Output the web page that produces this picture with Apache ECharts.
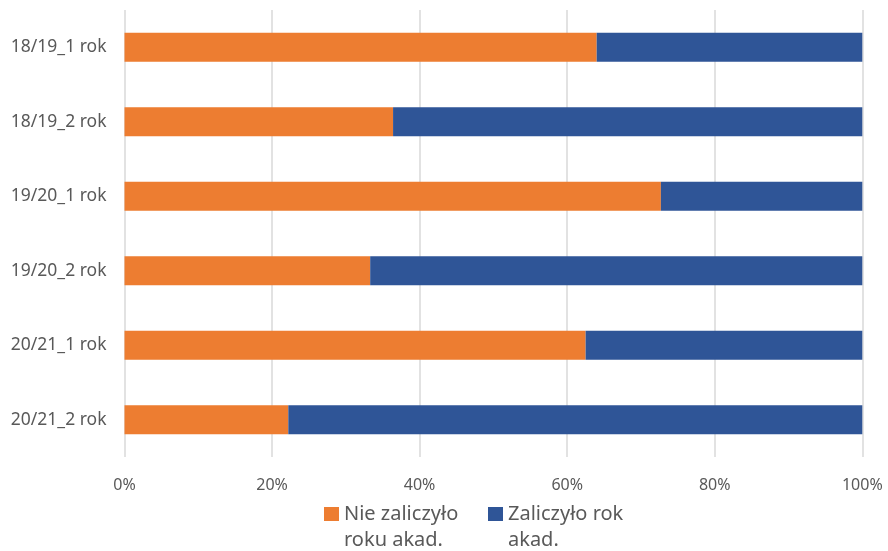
<!DOCTYPE html>
<html>
<head>
<meta charset="utf-8">
<script src="https://cdn.jsdelivr.net/npm/echarts@6/dist/echarts.min.js"></script>
<style>
  html, body { margin: 0; padding: 0; background: #fff; }
  #chart { width: 888px; height: 551px; }
</style>
</head>
<body>
<div id="chart"></div>
<script>
// kategorie (od góry)
const categories = ["18/19_1 rok", "18/19_2 rok", "19/20_1 rok", "19/20_2 rok", "20/21_1 rok", "20/21_2 rok"];
// udział w %
const nieZaliczylo = [64.0, 36.4, 72.7, 33.3, 62.5, 22.2];
const zaliczylo = [36.0, 63.6, 27.3, 66.7, 37.5, 77.8];
const nameNie = "Nie zaliczyło\nroku akad.";
const nameZal = "Zaliczyło rok\nakad.";

const font = "Noto Sans";
const legendText = {
  fontFamily: font,
  fontSize: 20,
  color: "#595959",
  lineHeight: 26,
};

// pusta linia na początku, żeby pierwsza linia tekstu była na wysokości kwadracika
const legendBase = {
  top: 475,
  padding: 0,
  itemWidth: 15,
  itemHeight: 14,
  itemGap: 0,
  icon: "rect",
  textStyle: legendText,
  formatter: (name) => "\n" + name,
};

var myChart = echarts.init(document.getElementById("chart"));
myChart.setOption({
  animation: false,
  grid: { left: 124.5, right: 25.7, top: 10, bottom: 94 },
  legend: [
    Object.assign({ data: [nameNie], left: 324 }, legendBase),
    Object.assign({ data: [nameZal], left: 488 }, legendBase),
  ],
  xAxis: {
    type: "value",
    min: 0,
    max: 100,
    interval: 20,
    axisLine: { show: false },
    axisTick: { show: false },
    axisLabel: {
      formatter: "{value}%",
      fontFamily: font,
      fontSize: 16,
      color: "#595959",
      margin: 20,
    },
    splitLine: { lineStyle: { color: "#d9d9d9", width: 1.5 } },
  },
  yAxis: {
    type: "category",
    data: categories,
    inverse: true,
    axisLine: { show: false },
    axisTick: { show: false },
    axisLabel: {
      fontFamily: font,
      fontSize: 17.5,
      color: "#595959",
      margin: 18,
    },
  },
  series: [
    {
      name: nameNie,
      type: "bar",
      stack: "total",
      barWidth: 29,
      data: nieZaliczylo,
      itemStyle: { color: "#ED7D31" },
    },
    {
      name: nameZal,
      type: "bar",
      stack: "total",
      barWidth: 29,
      data: zaliczylo,
      itemStyle: { color: "#2F5597" },
    },
  ],
});
</script>
</body>
</html>
